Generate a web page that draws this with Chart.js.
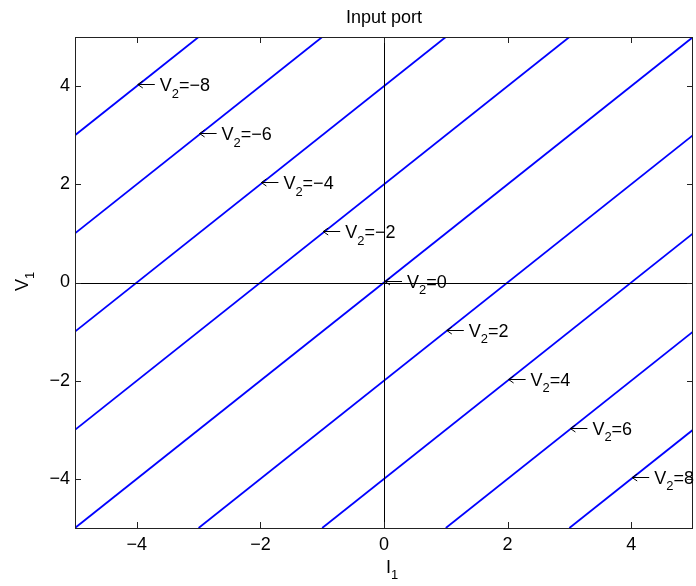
<!DOCTYPE html>
<html>
<head>
<meta charset="utf-8">
<script src="https://cdn.jsdelivr.net/npm/chart.js@4.4.1/dist/chart.umd.min.js"></script>
<style>
  html, body { margin: 0; padding: 0; background: #fff; }
  #wrap { width: 696px; height: 586px; }
</style>
</head>
<body>
<div id="wrap"><canvas id="portChart" width="696" height="586"></canvas></div>
<script>
// curves V1 vs I1 for each V2, end points
const v2Values = [-8, -6, -4, -2, 0, 2, 4, 6, 8];
const lineI1 = [[-5, -3], [-5, -1], [-5, 1], [-5, 3], [-5, 5], [-3, 5], [-1, 5], [1, 5], [3, 5]];
const lineV1 = [[3, 5], [1, 5], [-1, 5], [-3, 5], [-5, 5], [-5, 3], [-5, 1], [-5, -1], [-5, -3]];
// where each "<- V2=.." note points to
const labelI1 = [-4, -3, -2, -1, 0, 1, 2, 3, 4];
const labelV1 = [4, 3, 2, 1, 0, -1, -2, -3, -4];
const tickValues = [-4, -2, 0, 2, 4];

const FONT = '"Liberation Sans", Arial, Helvetica, sans-serif';
const SIZE = 18;

function fmt(v) {
    return v < 0 ? '\u2212' + Math.abs(v) : String(v);
}

// draw text with subscripts, parts = [[text, isSub], ...]
function richText(ctx, parts, x, y) {
    let cx = x;
    parts.forEach(p => {
        ctx.font = (p[1] ? SIZE * 0.72 : SIZE) + 'px ' + FONT;
        ctx.fillText(p[0], cx, p[1] ? y + SIZE * 0.36 : y);
        cx += ctx.measureText(p[0]).width;
    });
    return cx - x;
}

function richWidth(ctx, parts) {
    let w = 0;
    parts.forEach(p => {
        ctx.font = (p[1] ? SIZE * 0.72 : SIZE) + 'px ' + FONT;
        w += ctx.measureText(p[0]).width;
    });
    return w;
}

const matlabLook = {
    id: 'matlabLook',
    afterDatasetsDraw(chart) {
        const ctx = chart.ctx;
        const a = chart.chartArea;
        const xs = chart.scales.x;
        const ys = chart.scales.y;
        ctx.save();
        ctx.strokeStyle = '#000';
        ctx.lineWidth = 1;

        // zero lines
        const x0 = Math.round(xs.getPixelForValue(0)) + 0.5;
        const y0 = Math.round(ys.getPixelForValue(0)) + 0.5;
        ctx.beginPath();
        ctx.moveTo(x0, a.top); ctx.lineTo(x0, a.bottom);
        ctx.moveTo(a.left, y0); ctx.lineTo(a.right, y0);
        ctx.stroke();

        // box + inward ticks
        ctx.strokeStyle = '#222';
        ctx.strokeRect(Math.round(a.left) + 0.5, Math.round(a.top) + 0.5,
            Math.round(a.right - a.left) - 1, Math.round(a.bottom - a.top));
        ctx.beginPath();
        tickValues.forEach(v => {
            const px = Math.round(xs.getPixelForValue(v)) + 0.5;
            ctx.moveTo(px, a.bottom); ctx.lineTo(px, a.bottom - 6);
            ctx.moveTo(px, a.top); ctx.lineTo(px, a.top + 6);
            const py = Math.round(ys.getPixelForValue(v)) + 0.5;
            ctx.moveTo(a.left, py); ctx.lineTo(a.left + 6, py);
            ctx.moveTo(a.right, py); ctx.lineTo(a.right - 6, py);
        });
        ctx.stroke();

        ctx.fillStyle = '#000';
        ctx.strokeStyle = '#000';
        ctx.textBaseline = 'alphabetic';
        ctx.textAlign = 'left';

        // notes on the curves: arrow + V2=..
        v2Values.forEach((v, i) => {
            const px = xs.getPixelForValue(labelI1[i]);
            const py = ys.getPixelForValue(labelV1[i]);
            const ay = Math.round(py) - 1.5;
            ctx.beginPath();
            ctx.moveTo(px + 1, ay); ctx.lineTo(px + 18, ay);
            ctx.moveTo(px + 6, ay - 3.5); ctx.lineTo(px + 1, ay); ctx.lineTo(px + 6, ay + 3.5);
            ctx.stroke();
            richText(ctx, [['V', false], ['2', true], ['=' + fmt(v), false]], px + 23, py + 5);
        });

        // title
        ctx.font = SIZE + 'px ' + FONT;
        ctx.textAlign = 'center';
        ctx.fillText('Input port', (a.left + a.right) / 2, 23);
        ctx.textAlign = 'left';

        // x label
        richText(ctx, [['I', false], ['1', true]], 386, 573);

        // y label
        const yl = [['V', false], ['1', true]];
        ctx.translate(28, ys.getPixelForValue(0));
        ctx.rotate(-Math.PI / 2);
        richText(ctx, yl, -richWidth(ctx, yl) / 2 + 1, 0);
        ctx.restore();
    }
};

const datasets = v2Values.map((v, i) => ({
    label: 'V2=' + v,
    data: lineI1[i].map((x, k) => ({ x: x, y: lineV1[i][k] })),
    borderColor: '#0000ff',
    borderWidth: 1.8,
    showLine: true,
    pointRadius: 0,
    fill: false
}));

const ctx = document.getElementById('portChart').getContext('2d');
new Chart(ctx, {
    type: 'scatter',
    data: { datasets: datasets },
    options: {
        responsive: false,
        animation: false,
        devicePixelRatio: 1,
        layout: { padding: { top: 37, right: 3, left: 0, bottom: 0 } },
        plugins: { legend: { display: false }, title: { display: false }, tooltip: { enabled: false } },
        scales: {
            x: {
                type: 'linear', min: -5, max: 5,
                afterBuildTicks: s => { s.ticks = tickValues.map(v => ({ value: v })); },
                afterFit: s => { s.height = 58; },
                grid: { display: false, drawTicks: false },
                border: { display: false },
                ticks: { callback: fmt, color: '#000', padding: 6, maxRotation: 0, font: { family: FONT, size: SIZE } }
            },
            y: {
                type: 'linear', min: -5, max: 5,
                afterBuildTicks: s => { s.ticks = tickValues.map(v => ({ value: v })); },
                afterFit: s => { s.width = 75; },
                grid: { display: false, drawTicks: false },
                border: { display: false },
                ticks: { callback: fmt, color: '#000', padding: 5, font: { family: FONT, size: SIZE } }
            }
        }
    },
    plugins: [matlabLook]
});
</script>
</body>
</html>
